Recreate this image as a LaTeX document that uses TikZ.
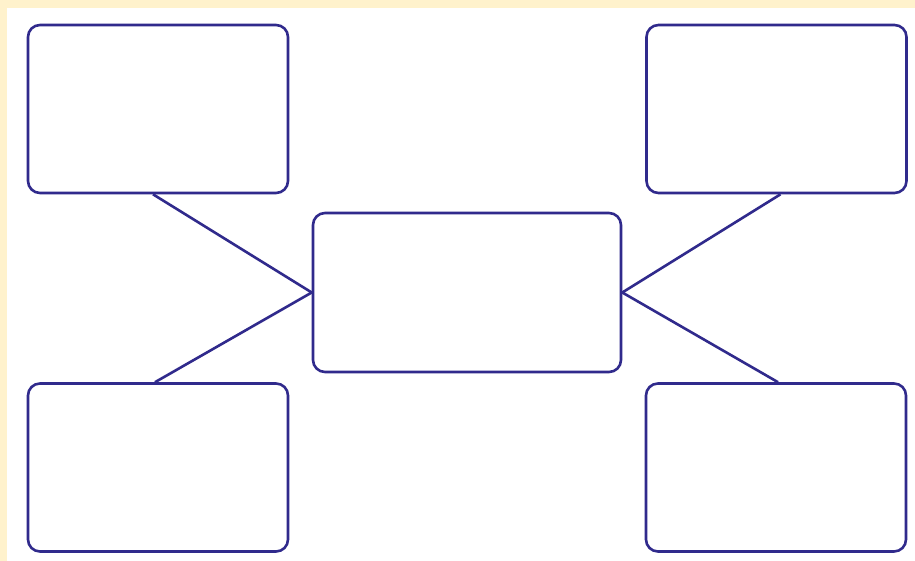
\documentclass[tikz,border=0pt]{standalone}
\usepackage{tikz}
\usetikzlibrary{positioning}
\definecolor{navy}{RGB}{48,42,140}
\definecolor{cream}{RGB}{255,242,204}

\begin{document}
\begin{tikzpicture}[
    x=0.5pt, y=-0.5pt,
    blk/.style={draw=navy,line width=1.3pt,rounded corners=6pt,fill=white,
                minimum width=130pt,minimum height=84pt,inner sep=0pt},
    hub/.style={blk,minimum width=154pt,minimum height=79.5pt},
    fline/.style={navy,line width=1.3pt}
]

% Frame
\fill[cream] (0,0) rectangle (915,561);
\fill[white] (7,8) rectangle (915,561);
\useasboundingbox (0,0) rectangle (915,561);

% Central box
\node[hub] (C) at (467,292.5) {};

% Outer boxes
\node[blk] (TL) at (158,109) {};
\node[blk] (TR) at (776.5,109) {};
\node[blk] (BL) at (158,467.5) {};
\node[blk] (BR) at (776,467.5) {};

% Connectors
\draw[fline] ([xshift=-2.5pt]TL.south) -- (C.west);
\draw[fline] ([xshift=-1.5pt]BL.north) -- (C.west);
\draw[fline] ([xshift=2pt]TR.south) -- (C.east);
\draw[fline] ([xshift=1pt]BR.north) -- (C.east);

\end{tikzpicture}
\end{document}
